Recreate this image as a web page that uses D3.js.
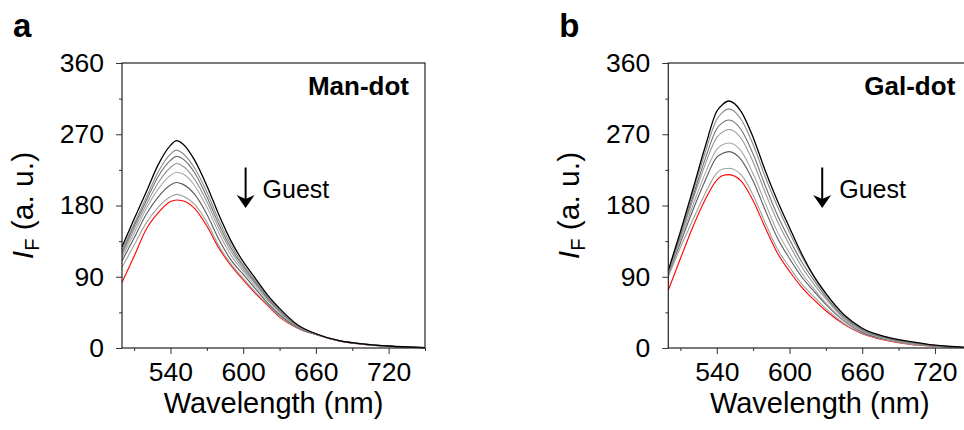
<!DOCTYPE html>
<html>
<head>
<meta charset="utf-8">
<script src="https://cdn.jsdelivr.net/npm/d3@7"></script>
<style>
body { margin: 0; background: #fff; }
text { font-family: "Liberation Sans", Arial, sans-serif; }
</style>
</head>
<body>
<script>
// wavelength (nm) sampling shared by all spectra
let wavelength = [500, 510, 520, 530, 540, 545, 550, 560, 570, 580, 590, 600, 610, 620, 630, 645, 660, 680, 700, 720, 750];

// Man-dot spectra, from no guest (black) to last addition (red)
let manDot = [
  [128, 163, 197, 232, 256, 262, 258, 237, 205, 168, 135, 109, 88, 67, 50, 29, 18, 9, 5, 2.5, 0.5],
  [124, 157, 190, 223, 245, 250, 246, 227, 197, 161, 130, 105, 85, 65, 48, 28, 18, 9, 5, 2.4, 0.5],
  [121, 154, 186, 217, 237, 242, 239, 221, 191, 156, 126, 103, 83, 63, 47, 28, 18, 9, 5, 2.4, 0.5],
  [118, 150, 181, 209, 228, 233, 230, 213, 185, 151, 122, 100, 81, 62, 46, 27, 17.5, 9, 4.8, 2.3, 0.5],
  [114, 145, 176, 201, 218, 222, 220, 205, 178, 145, 117, 97, 78, 60, 44, 27, 17.5, 9, 4.7, 2.3, 0.5],
  [110, 139, 169, 191, 206, 209, 207, 194, 169, 137, 111, 93, 75, 57, 42, 26, 17, 8.8, 4.6, 2.2, 0.4],
  [102, 130, 158, 178, 191, 194, 192, 181, 159, 129, 106, 88, 71, 55, 40, 25, 17, 8.6, 4.5, 2.2, 0.4],
  [83, 116, 150, 171, 185, 187, 186, 176, 154, 126, 104, 86, 69, 54, 39, 25, 17, 8.5, 4.5, 2.2, 0.4]
];

// Gal-dot spectra
let galDot = [
  [98, 147, 199, 252, 299, 308, 312, 299, 266, 224, 186, 152, 119, 91, 69, 42, 25, 14, 8, 3.5, 0.5],
  [97, 145, 195, 245, 289, 298, 302, 289, 257, 216, 179, 146, 116, 90, 68, 41, 24, 13.5, 7.6, 3.4, 0.5],
  [96, 143, 190, 237, 277, 285, 288, 276, 245, 205, 168, 137, 109, 86, 65, 39, 23, 12.8, 7.1, 3.2, 0.5],
  [95, 140, 186, 230, 266, 273, 276, 265, 235, 196, 160, 130, 103, 81, 62, 37, 22, 12.2, 6.6, 3, 0.5],
  [94, 137, 179, 219, 251, 257, 259, 249, 220, 183, 147, 120, 95, 75, 57, 35, 21, 11.4, 6, 2.8, 0.4],
  [93, 133, 173, 210, 241, 246, 248, 238, 211, 174, 139, 113, 90, 72, 55, 34, 20, 11, 5.6, 2.6, 0.4],
  [90, 127, 161, 194, 221, 226, 227, 219, 193, 158, 125, 102, 81, 65, 50, 31, 18.6, 10, 4.8, 2.3, 0.4],
  [73, 113, 152, 186, 212, 218, 219, 211, 186, 152, 120, 97, 77, 61, 47, 30, 18, 9.5, 4.5, 2.2, 0.4]
];

let lineColors = ["#000000", "#8a8a8a", "#707070", "#959595", "#a8a8a8", "#5c5c5c", "#a0a0a0", "#ff0000"];

let yTicks = [0, 90, 180, 270, 360];
let yMinor = [45, 135, 225, 315];
let xTicks = [540, 600, 660, 720];
let xMinor = [510, 570, 630, 690, 750];

let svg = d3.select("body").append("svg")
    .attr("width", 964)
    .attr("height", 430);

function drawPanel(left, letter, name, series, arrowAt) {
  let top = 63, width = 303, height = 285;

  let x = d3.scaleLinear().domain([500, 750]).range([0, width]);
  let y = d3.scaleLinear().domain([0, 360]).range([height, 0]);

  let g = svg.append("g")
      .attr("transform", "translate(" + left + "," + top + ")");

  // minor ticks first, then the labelled ones
  g.append("g")
      .attr("transform", "translate(0," + height + ")")
      .call(d3.axisBottom(x).tickValues(xMinor).tickSize(3).tickSizeOuter(0).tickFormat(""));
  g.append("g")
      .call(d3.axisLeft(y).tickValues(yMinor).tickSize(3).tickSizeOuter(0).tickFormat(""));

  g.append("g")
      .attr("transform", "translate(0," + height + ")")
      .call(d3.axisBottom(x).tickValues(xTicks).tickSize(6).tickSizeOuter(0).tickPadding(8));
  g.append("g")
      .call(d3.axisLeft(y).tickValues(yTicks).tickSize(6).tickSizeOuter(0).tickPadding(12));

  g.selectAll(".domain").remove();
  g.selectAll(".tick line").attr("stroke", "#333");
  g.selectAll(".tick text")
      .attr("font-family", "'Liberation Sans', Arial, sans-serif")
      .attr("font-size", 26.5)
      .attr("fill", "#000");

  // spectra, red drawn first so the others lie over it in the tail
  let line = d3.line()
      .x(function(d, i) { return x(wavelength[i]); })
      .y(function(d) { return y(d); })
      .curve(d3.curveMonotoneX);

  let order = d3.range(series.length).reverse();
  g.selectAll(".spec")
      .data(order)
      .enter().append("path")
      .attr("class", "spec")
      .attr("fill", "none")
      .attr("stroke", function(k) { return lineColors[k]; })
      .attr("stroke-width", function(k) { return k === 0 ? 1.3 : 1.1; })
      .attr("d", function(k) { return line(series[k]); });

  // frame
  g.append("rect")
      .attr("width", width)
      .attr("height", height)
      .attr("fill", "none")
      .attr("stroke", "#222")
      .attr("stroke-width", 1.2);

  // panel letter
  g.append("text")
      .attr("x", -109)
      .attr("y", -26)
      .attr("font-size", 33)
      .attr("font-weight", "bold")
      .text(letter);

  // sample name
  g.append("text")
      .attr("x", width - 16)
      .attr("y", 32)
      .attr("text-anchor", "end")
      .attr("font-size", 26)
      .attr("font-weight", "bold")
      .text(name);

  // arrow + Guest
  let ax = x(arrowAt), ay0 = y(228), ay1 = y(177);
  g.append("line")
      .attr("x1", ax).attr("x2", ax)
      .attr("y1", ay0).attr("y2", ay1 - 6)
      .attr("stroke", "#000")
      .attr("stroke-width", 2);
  g.append("path")
      .attr("d", "M" + (ax - 9) + "," + (ay1 - 13) + "L" + ax + "," + ay1 + "L" + (ax + 9) + "," + (ay1 - 13) + "L" + ax + "," + (ay1 - 9) + "Z")
      .attr("fill", "#000");
  g.append("text")
      .attr("x", ax + 17)
      .attr("y", y(189))
      .attr("font-size", 25)
      .text("Guest");

  // axis titles
  g.append("text")
      .attr("x", width / 2)
      .attr("y", height + 65)
      .attr("text-anchor", "middle")
      .attr("font-size", 29)
      .text("Wavelength (nm)");

  let yl = g.append("text")
      .attr("transform", "translate(-89," + (height / 2) + ") rotate(-90)")
      .attr("text-anchor", "middle")
      .attr("font-size", 30);
  yl.append("tspan").attr("font-style", "italic").text("I");
  yl.append("tspan").attr("font-size", 20).attr("dy", 6).text("F");
  yl.append("tspan").attr("dy", -6).text(" (a. u.)");
}

drawPanel(122, "a", "Man-dot", manDot, 602);
drawPanel(668.3, "b", "Gal-dot", galDot, 627);
</script>
</body>
</html>
